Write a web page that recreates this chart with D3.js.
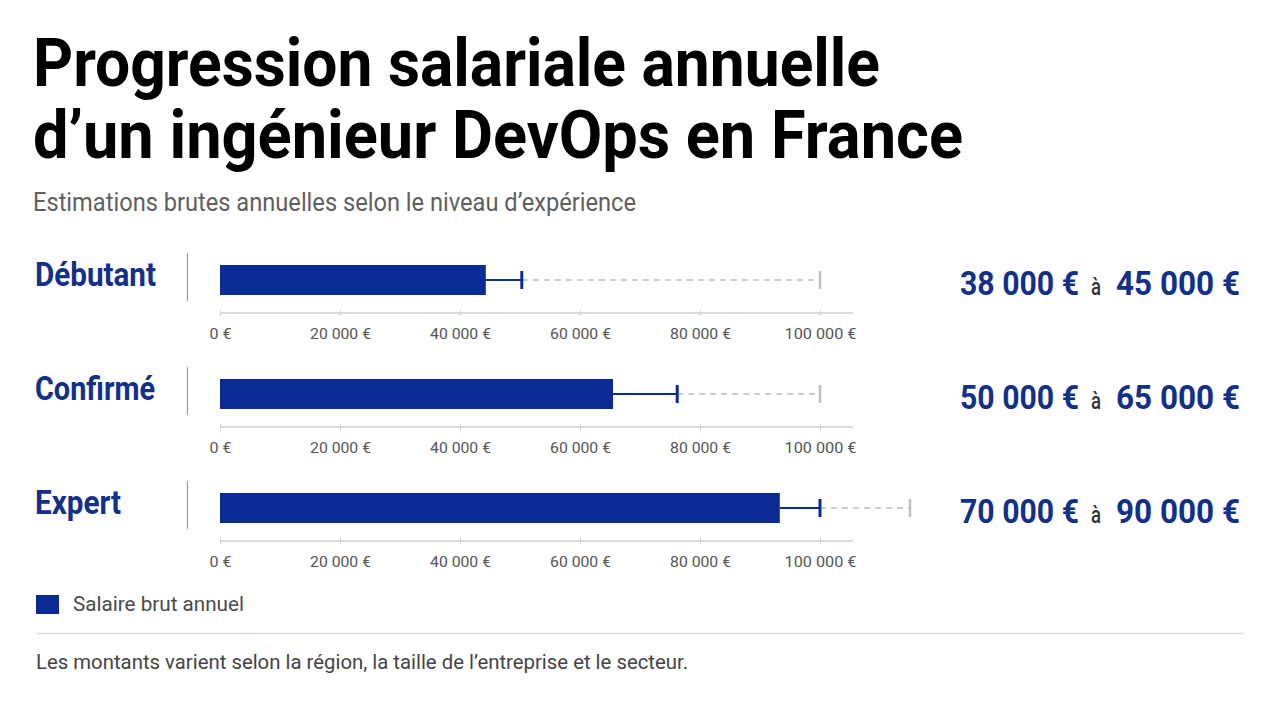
<!DOCTYPE html>
<html><head><meta charset="utf-8">
<script src="https://cdn.jsdelivr.net/npm/d3@7"></script>
<style>html,body{margin:0;padding:0;background:#fff;}svg{display:block;}</style>
</head><body>
<svg id="chart" width="1280" height="702"></svg>
<script>
const categories = ["Débutant", "Confirmé", "Expert"];
const barValues = [44300, 65500, 93300];
const whiskerValues = [50300, 76200, 100000];
const dashedMax = [100000, 100000, 115000];
const rangeLow = ["38 000 €", "50 000 €", "70 000 €"];
const rangeHigh = ["45 000 €", "65 000 €", "90 000 €"];
const tickValues = [0, 20000, 40000, 60000, 80000, 100000];
const titleLines = ["Progression salariale annuelle", "d’un ingénieur DevOps en France"];
const subtitle = "Estimations brutes annuelles selon le niveau d’expérience";
const legendLabel = "Salaire brut annuel";
const footnote = "Les montants varient selon la région, la taille de l’entreprise et le secteur.";

const BLUE = "#0a2a94", LABEL = "#12308a";
const FONT = "Roboto, 'Liberation Sans', sans-serif";
const svg = d3.select("#chart");

const titleY = [86, 158], titleW = [847, 930];
titleLines.forEach((t, i) => {
  svg.append("text").attr("x", 33).attr("y", titleY[i]).text(t)
    .attr("font-family", FONT).attr("font-weight", 700).attr("font-size", 67)
    .attr("fill", "#000").attr("textLength", titleW[i]).attr("lengthAdjust", "spacingAndGlyphs");
});
svg.append("text").attr("x", 33).attr("y", 211).text(subtitle)
  .attr("font-family", FONT).attr("font-size", 25).attr("fill", "#5f5f5f")
  .attr("textLength", 603).attr("lengthAdjust", "spacingAndGlyphs");

const x = d3.scaleLinear().domain([0, 100000]).range([220, 820]);
const fmt = v => d3.format(",")(v).replace(/,/g, " ") + " €";
const rowTop = [265, 379, 493];
const barH = 30;
const labelW = [121, 120, 86];

categories.forEach((c, i) => {
  const y0 = rowTop[i], yc = y0 + barH / 2;
  const g = svg.append("g");
  g.append("text").attr("x", 35).attr("y", y0 + 21).text(c)
    .attr("font-family", FONT).attr("font-weight", 700).attr("font-size", 33)
    .attr("fill", LABEL).attr("textLength", labelW[i]).attr("lengthAdjust", "spacingAndGlyphs");
  g.append("line").attr("x1", 187.5).attr("x2", 187.5).attr("y1", y0 - 12).attr("y2", y0 + 36)
    .attr("stroke", "#999").attr("stroke-width", 1.2);
  g.append("line").attr("x1", x(whiskerValues[i])).attr("x2", x(dashedMax[i])).attr("y1", yc).attr("y2", yc)
    .attr("stroke", "#bdbdbd").attr("stroke-width", 1.5).attr("stroke-dasharray", "6,5");
  g.append("line").attr("x1", x(dashedMax[i])).attr("x2", x(dashedMax[i])).attr("y1", yc - 9).attr("y2", yc + 9)
    .attr("stroke", "#bdbdbd").attr("stroke-width", 2.5);
  g.append("line").attr("x1", x(barValues[i])).attr("x2", x(whiskerValues[i])).attr("y1", yc).attr("y2", yc)
    .attr("stroke", BLUE).attr("stroke-width", 2);
  g.append("line").attr("x1", x(whiskerValues[i])).attr("x2", x(whiskerValues[i])).attr("y1", yc - 9).attr("y2", yc + 9)
    .attr("stroke", BLUE).attr("stroke-width", 3);
  g.append("rect").attr("x", x(0)).attr("y", y0).attr("width", x(barValues[i]) - x(0)).attr("height", barH)
    .attr("fill", BLUE);
  const ax = svg.append("g").attr("transform", `translate(0,${y0 + 48})`)
    .call(d3.axisBottom(x).tickValues(tickValues).tickFormat(fmt).tickSize(3).tickPadding(12));
  ax.select(".domain").attr("d", `M${x(0)},0H853`).attr("stroke", "#cfcfcf").attr("stroke-width", 1.5);
  ax.selectAll(".tick line").attr("stroke", "#cfcfcf").attr("y1", -3).attr("y2", 3);
  ax.selectAll(".tick text").attr("font-family", FONT).attr("font-size", 15.5).attr("fill", "#555");
  ax.selectAll(".tick text").each(function(d) {
    const w = d === 0 ? 22 : (d === 100000 ? 72 : 61);
    d3.select(this).attr("textLength", w).attr("lengthAdjust", "spacingAndGlyphs");
  });
  const ty = y0 + 30;
  svg.append("text").attr("x", 960).attr("y", ty).text(rangeLow[i])
    .attr("font-family", FONT).attr("font-weight", 700).attr("font-size", 33).attr("fill", LABEL)
    .attr("textLength", 119).attr("lengthAdjust", "spacingAndGlyphs");
  svg.append("text").attr("x", 1091).attr("y", ty).text("à")
    .attr("font-family", FONT).attr("font-weight", 500).attr("font-size", 24).attr("fill", "#333")
    .attr("textLength", 10).attr("lengthAdjust", "spacingAndGlyphs");
  svg.append("text").attr("x", 1116).attr("y", ty).text(rangeHigh[i])
    .attr("font-family", FONT).attr("font-weight", 700).attr("font-size", 33).attr("fill", LABEL)
    .attr("textLength", 124).attr("lengthAdjust", "spacingAndGlyphs");
});

svg.append("rect").attr("x", 36).attr("y", 595).attr("width", 23).attr("height", 19).attr("fill", BLUE);
svg.append("text").attr("x", 73).attr("y", 611).text(legendLabel)
  .attr("font-family", FONT).attr("font-size", 20).attr("fill", "#4a4a4a")
  .attr("textLength", 171).attr("lengthAdjust", "spacingAndGlyphs");
svg.append("line").attr("x1", 36).attr("x2", 1244).attr("y1", 633.5).attr("y2", 633.5)
  .attr("stroke", "#dcdcdc").attr("stroke-width", 1.5);
svg.append("text").attr("x", 36).attr("y", 669).text(footnote)
  .attr("font-family", FONT).attr("font-size", 19.5).attr("fill", "#444")
  .attr("textLength", 652).attr("lengthAdjust", "spacingAndGlyphs");
</script>
</body></html>
